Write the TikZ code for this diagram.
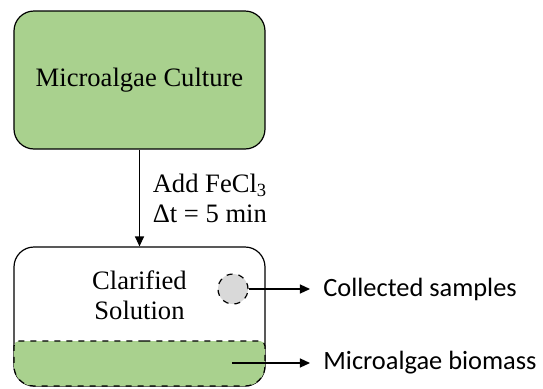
\documentclass[tikz,border=0pt]{standalone}
\usepackage{fontspec}
\setmainfont{Liberation Serif}
\newfontfamily\labelfont{Carlito}
\usepackage{xcolor}
\usetikzlibrary{arrows.meta,positioning}

\definecolor{algae}{HTML}{A9D18E}
\definecolor{sampgray}{HTML}{D9D9D9}

\begin{document}
\begin{tikzpicture}[x=0.5pt,y=0.5pt,>={Triangle[length=5pt,width=4.5pt]},every node/.append style={align=center},
  stage/.style={draw, line width=0.6pt, rounded corners=10pt, minimum width=125.5pt, font=\fontsize{13.3}{15.5}\selectfont},
  layer/.style={draw, dashed, line width=0.6pt, fill=algae},
  sampnode/.style={circle, draw, dashed, line width=0.6pt, fill=sampgray, minimum size=15pt, inner sep=0pt},
  outlabel/.style={anchor=west, inner sep=0pt, font=\labelfont\fontsize{13.2}{15}\selectfont},
  link/.style={->, line width=0.6pt}]
    \useasboundingbox (0,0) rectangle (543,388);
    % boxes
    \node [stage, fill=algae, minimum height=69pt] (culture) at (139.5,308) {Microalgae Culture};
    \node [stage, minimum height=69.5pt] (clarified) at (139.5,71.5) {};
    \draw [layer] (139.5,47) [rounded corners=2.5pt] -- (265,47) [rounded corners=10pt] -- (265,2) -- (14,2) [rounded corners=2.5pt] -- (14,47) -- cycle;
    \node [font=\fontsize{13.3}{15}\selectfont] (solution) at (139.5,93) {Clarified\\Solution};
    \node [sampnode] (sample) at (233,99) {};
    \coordinate (biopt) at (232,25);
    % outputs
    \node [outlabel] (collected) at (323,99) {Collected samples};
    \node [outlabel] (biomass) at (323,25) {Microalgae biomass};
    \draw [link] (culture) -- node [right, xshift=3pt, align=left, font=\fontsize{13.3}{15}\selectfont] (dose) {Add FeCl\textsubscript{3}\\Δt = 5 min} (clarified);
    \draw [link, shorten >=6.5pt] (sample) -- (collected.west);
    \draw [link, shorten >=6.5pt] (biopt) -- (biomass.west);
\end{tikzpicture}
\end{document}
